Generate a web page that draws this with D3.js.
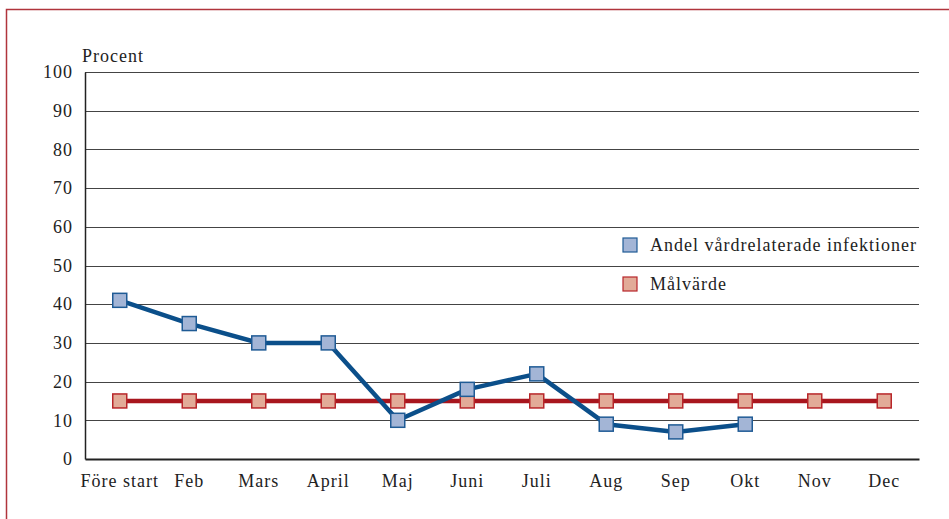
<!DOCTYPE html>
<html>
<head>
<meta charset="utf-8">
<script src="https://cdn.jsdelivr.net/npm/d3@7"></script>
<style>
  html, body { margin: 0; padding: 0; background: #fff; }
  svg { display: block; }
  text { font-family: "Liberation Serif", "DejaVu Serif", serif; fill: #222; letter-spacing: 1px; }
</style>
</head>
<body>
<svg id="chart" width="949" height="519"></svg>
<script>
// Månader och andel vårdrelaterade infektioner (procent)
const months = ["Före start", "Feb", "Mars", "April", "Maj", "Juni", "Juli", "Aug", "Sep", "Okt", "Nov", "Dec"];
const infections = [41, 35, 30, 30, 10, 18, 22, 9, 7, 9];
const target = [15, 15, 15, 15, 15, 15, 15, 15, 15, 15, 15, 15];
const yTicks = [0, 10, 20, 30, 40, 50, 60, 70, 80, 90, 100];
const legendLabels = ["Andel vårdrelaterade infektioner", "Målvärde"];

const svg = d3.select("#chart");
const W = 949, H = 519;
const m = { left: 85, top: 72 };
const plotRight = 919, plotBottom = 459;
const fontSize = 18;

// Ram runt figuren
svg.append("rect")
  .attr("x", 6.5).attr("y", 9.5)
  .attr("width", W + 10).attr("height", H + 10)
  .attr("fill", "none").attr("stroke", "#b0343c").attr("stroke-width", 1.5);

const x = d3.scaleBand().domain(months).range([m.left, plotRight]).paddingInner(0).paddingOuter(0);
const y = d3.scaleLinear().domain([0, 100]).range([plotBottom, m.top]);
const cx = d => x(d) + x.bandwidth() / 2;

// Stödlinjer
svg.append("g")
  .selectAll("line")
  .data(yTicks.filter(t => t > 0))
  .join("line")
  .attr("x1", m.left).attr("x2", plotRight)
  .attr("y1", d => Math.round(y(d)) + 0.5).attr("y2", d => Math.round(y(d)) + 0.5)
  .attr("stroke", "#444").attr("stroke-width", 1);

// Y-axel
const yAxis = svg.append("g")
  .attr("transform", `translate(${m.left},0)`)
  .call(d3.axisLeft(y).tickValues(yTicks).tickSize(0).tickPadding(12));
yAxis.select(".domain").attr("stroke", "#222").attr("stroke-width", 1.5);
yAxis.selectAll("text").attr("font-size", fontSize).attr("fill", "#222");

// X-axel
const xAxis = svg.append("g")
  .attr("transform", `translate(0,${plotBottom})`)
  .call(d3.axisBottom(x).tickSize(0).tickPadding(15));
xAxis.select(".domain").attr("stroke", "#222").attr("stroke-width", 2);
xAxis.selectAll("text").attr("font-size", fontSize).attr("fill", "#222");

// Axeltitel
svg.append("text")
  .attr("x", 82).attr("y", 62)
  .attr("font-size", fontSize)
  .text("Procent");

const line = d3.line().x(d => cx(d.m)).y(d => y(d.v));
const sz = 14;

function drawSeries(values, lineColor, fill, stroke) {
  const pts = values.map((v, i) => ({ m: months[i], v }));
  svg.append("path")
    .datum(pts)
    .attr("d", line)
    .attr("fill", "none")
    .attr("stroke", lineColor)
    .attr("stroke-width", 4.5)
    .attr("stroke-linejoin", "round");
  svg.append("g")
    .selectAll("rect")
    .data(pts)
    .join("rect")
    .attr("x", d => cx(d.m) - sz / 2)
    .attr("y", d => y(d.v) - sz / 2)
    .attr("width", sz).attr("height", sz)
    .attr("fill", fill).attr("stroke", stroke).attr("stroke-width", 1.5);
}

drawSeries(target, "#a8161e", "#e2ab98", "#b8262a");
drawSeries(infections, "#0b4f8a", "#a3b5d6", "#1f5b95");

// Teckenförklaring
const legend = [
  { label: legendLabels[0], fill: "#a3b5d6", stroke: "#1f5b95", y: 245 },
  { label: legendLabels[1], fill: "#e2ab98", stroke: "#b8262a", y: 284 }
];
const lg = svg.append("g");
lg.selectAll("rect")
  .data(legend)
  .join("rect")
  .attr("x", 623).attr("y", d => d.y - 7)
  .attr("width", 14).attr("height", 14)
  .attr("fill", d => d.fill).attr("stroke", d => d.stroke).attr("stroke-width", 1.2);
lg.selectAll("text")
  .data(legend)
  .join("text")
  .attr("x", 650).attr("y", d => d.y + 6)
  .attr("font-size", fontSize)
  .text(d => d.label);
</script>
</body>
</html>
